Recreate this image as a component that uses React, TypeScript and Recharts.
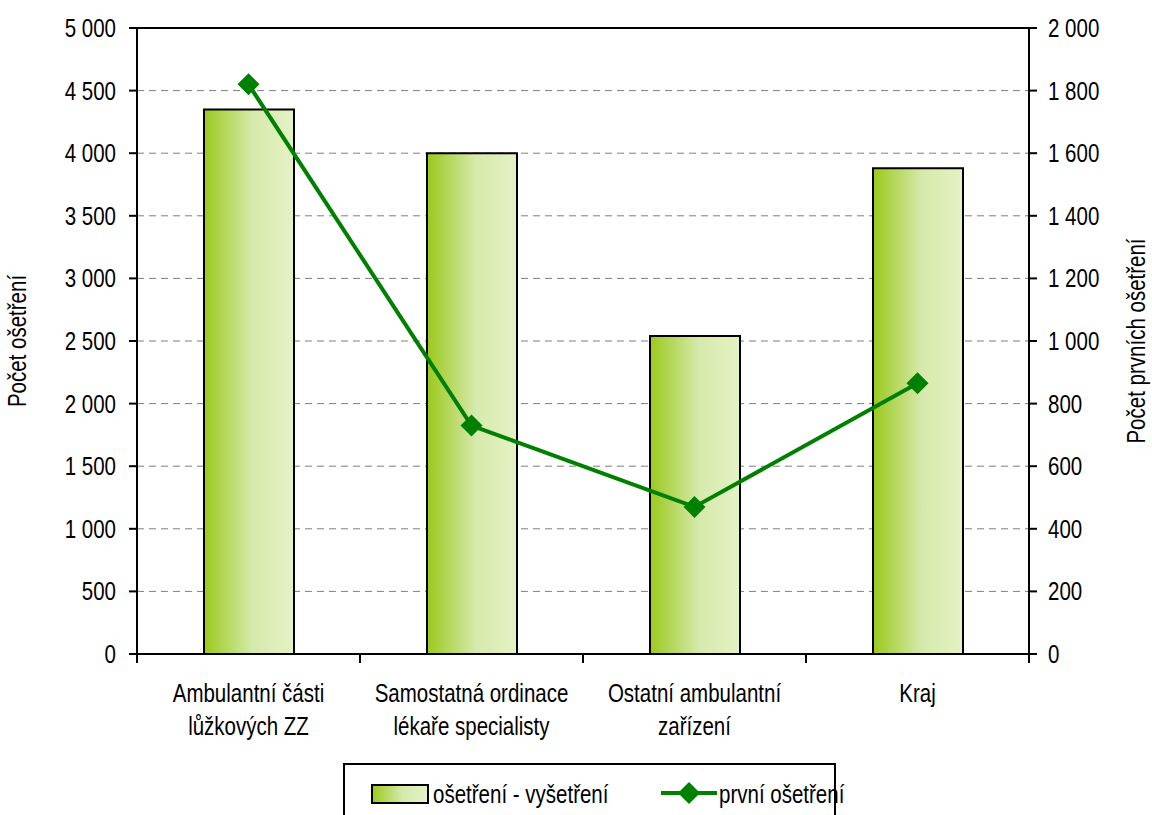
import {
  Bar,
  CartesianGrid,
  ComposedChart,
  Line,
  ReferenceLine,
  XAxis,
  YAxis,
} from "recharts"

const categories = [
  "Ambulantní části\nlůžkových ZZ",
  "Samostatná ordinace\nlékaře specialisty",
  "Ostatní ambulantní\nzařízení",
  "Kraj",
]
const treatments = [4350, 4000, 2540, 3880]
const firstTreatments = [1820, 730, 470, 865]
const leftTicks = [0, 500, 1000, 1500, 2000, 2500, 3000, 3500, 4000, 4500, 5000]
const rightTicks = [0, 200, 400, 600, 800, 1000, 1200, 1400, 1600, 1800, 2000]

const data = categories.map((name, i) => ({
  name,
  osetreni: treatments[i],
  prvni: firstTreatments[i],
}))

// no narrow font installed, so squeeze Liberation Sans horizontally
const FONT = '"Liberation Sans", Arial, sans-serif'
const FS = 25
const SQ = 0.82
const GREEN = "#008000"

const fmt = (v: number) => String(v).replace(/\B(?=(\d{3})+(?!\d))/g, " ")

function NarrowText({ x, y, anchor, children, rotate = 0 }: any) {
  return (
    <text
      transform={`translate(${x},${y}) rotate(${rotate}) scale(${SQ},1)`}
      textAnchor={anchor}
      fontFamily={FONT}
      fontSize={FS}
      fill="#000"
    >
      {children}
    </text>
  )
}

function CategoryTick(props: any) {
  const { x, y, payload, index } = props
  const half = payload?.offset || 111.5
  const lines = String(payload.value).split("\n")
  return (
    <g>
      <line x1={x - half} x2={x - half} y1={y} y2={y + 9} stroke="#000" strokeWidth={2} />
      {index === categories.length - 1 && (
        <line x1={x + half} x2={x + half} y1={y} y2={y + 9} stroke="#000" strokeWidth={2} />
      )}
      {lines.map((l, i) => (
        <NarrowText key={i} x={x} y={y + 48 + i * 33} anchor="middle">
          {l}
        </NarrowText>
      ))}
    </g>
  )
}

function ValueTick(props: any) {
  const { x, y, payload, textAnchor } = props
  return (
    <NarrowText x={x} y={y + 9} anchor={textAnchor}>
      {fmt(payload.value)}
    </NarrowText>
  )
}

function AxisTitle(props: any) {
  const { viewBox, value, side } = props
  if (!viewBox) return null
  const cx = side === "left" ? viewBox.x + 26 : viewBox.x + viewBox.width - 7
  const cy = viewBox.y + viewBox.height / 2
  return (
    <NarrowText x={cx} y={cy} anchor="middle" rotate={-90}>
      {value}
    </NarrowText>
  )
}

function Diamond(props: any) {
  const { cx, cy } = props
  if (cx == null || cy == null) return null
  const r = 11
  return (
    <polygon
      points={`${cx},${cy - r} ${cx + r},${cy} ${cx},${cy + r} ${cx - r},${cy}`}
      fill={GREEN}
    />
  )
}

export default function App() {
  const legendText = {
    position: "absolute" as const,
    top: 16,
    whiteSpace: "nowrap" as const,
    transform: `scaleX(${SQ})`,
    transformOrigin: "left center",
  }
  return (
    <div
      style={{
        position: "absolute",
        left: 0,
        top: 0,
        width: 1152,
        height: 815,
        overflow: "hidden",
        background: "#fff",
        fontFamily: FONT,
      }}
    >
      <svg width={0} height={0} style={{ position: "absolute" }}>
        <defs>
          <linearGradient id="legendFill" x1="0" y1="0" x2="1" y2="0">
            <stop offset="0%" stopColor="#9bc91c" />
            <stop offset="55%" stopColor="#d6eaad" />
            <stop offset="100%" stopColor="#e5f2c4" />
          </linearGradient>
        </defs>
      </svg>
      <ComposedChart
        width={1152}
        height={815}
        data={data}
        margin={{ top: 28, right: 0, left: 0, bottom: 61 }}
      >
        <defs>
          <linearGradient id="barFill" x1="0" y1="0" x2="1" y2="0">
            <stop offset="0%" stopColor="#9bc91c" />
            <stop offset="55%" stopColor="#d6eaad" />
            <stop offset="100%" stopColor="#e5f2c4" />
          </linearGradient>
        </defs>
        <CartesianGrid
          yAxisId="left"
          vertical={false}
          stroke="#7f7f7f"
          strokeDasharray="7 5"
        />
        <XAxis
          dataKey="name"
          height={100}
          tickLine={false}
          tickSize={0}
          tickMargin={0}
          tick={<CategoryTick />}
          axisLine={{ stroke: "#000", strokeWidth: 2 }}
          interval={0}
        />
        <YAxis
          yAxisId="left"
          width={137}
          domain={[0, 5000]}
          ticks={leftTicks}
          tick={<ValueTick />}
          tickSize={8}
          tickMargin={13}
          tickLine={{ stroke: "#000", strokeWidth: 2 }}
          axisLine={{ stroke: "#000", strokeWidth: 2 }}
          label={<AxisTitle value="Počet ošetření" side="left" />}
        />
        <YAxis
          yAxisId="right"
          orientation="right"
          width={123}
          domain={[0, 2000]}
          ticks={rightTicks}
          tick={<ValueTick />}
          tickSize={8}
          tickMargin={11}
          tickLine={{ stroke: "#000", strokeWidth: 2 }}
          axisLine={{ stroke: "#000", strokeWidth: 2 }}
          label={<AxisTitle value="Počet prvních ošetření" side="right" />}
        />
        <ReferenceLine yAxisId="left" y={5000} stroke="#000" strokeWidth={2} />
        <Bar
          yAxisId="left"
          dataKey="osetreni"
          barSize={90}
          fill="url(#barFill)"
          stroke="#000"
          strokeWidth={2}
          isAnimationActive={false}
        />
        <Line
          yAxisId="right"
          dataKey="prvni"
          type="linear"
          stroke={GREEN}
          strokeWidth={4}
          dot={<Diamond />}
          activeDot={false}
          isAnimationActive={false}
        />
      </ComposedChart>
      <div
        style={{
          position: "absolute",
          left: 343,
          top: 763,
          width: 493,
          height: 70,
          border: "2px solid #000",
          boxSizing: "border-box",
          background: "#fff",
          fontSize: FS,
          lineHeight: "26px",
          color: "#000",
        }}
      >
        <svg width={58} height={20} style={{ position: "absolute", left: 26, top: 19 }}>
          <rect x={1} y={1} width={56} height={18} fill="url(#legendFill)" stroke="#000" strokeWidth={2} />
        </svg>
        <span style={{ ...legendText, left: 88 }}>ošetření - vyšetření</span>
        <svg width={60} height={26} style={{ position: "absolute", left: 314, top: 15 }}>
          <line x1={2} x2={58} y1={13} y2={13} stroke={GREEN} strokeWidth={4} />
          <polygon points="30,2 41,13 30,24 19,13" fill={GREEN} />
        </svg>
        <span style={{ ...legendText, left: 374 }}>první ošetření</span>
      </div>
    </div>
  )
}
